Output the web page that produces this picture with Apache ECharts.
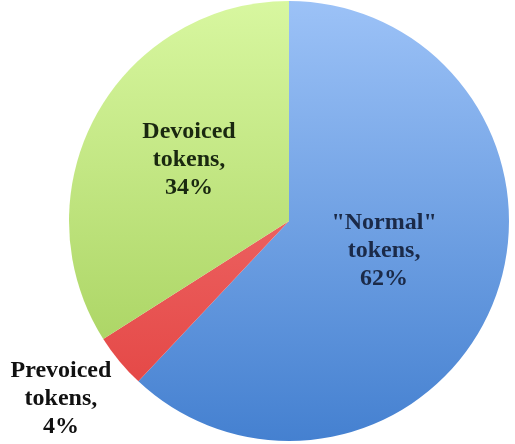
<!DOCTYPE html>
<html>
<head>
<meta charset="utf-8">
<script src="https://cdn.jsdelivr.net/npm/echarts@6/dist/echarts.min.js"></script>
<style>html,body{margin:0;padding:0;background:#fff;}#c{width:515px;height:444px;}</style>
</head>
<body>
<div id="c"></div>
<script>
const categories = ['"Normal"\ntokens,', 'Prevoiced\ntokens,', 'Devoiced\ntokens,'];
const values = [62, 4, 34];

const grad = (a, b) => ({type: 'linear', x: 0, y: 0, x2: 0, y2: 444, global: true,
  colorStops: [{offset: 0, color: a}, {offset: 1, color: b}]});
const styles = [
  {color: grad('#9cc2f7', '#4480d0'), text: '#1b2a48', offset: [-10, -12]},
  {color: grad('#f58080', '#e2403e'), text: '#111111', offset: [-141, 106]},
  {color: grad('#d8f7a0', '#a0cc55'), text: '#1a2810', offset: [-1, -7]}
];

const chart = echarts.init(document.getElementById('c'), null, {renderer: 'canvas'});
chart.setOption({
  animation: false,
  series: [{
    type: 'pie',
    center: [289, 221],
    radius: 220,
    startAngle: 90,
    clockwise: true,
    avoidLabelOverlap: false,
    labelLine: {show: false},
    itemStyle: {borderWidth: 0},
    data: categories.map((name, i) => ({
      name: name,
      value: values[i],
      itemStyle: {color: styles[i].color},
      label: {
        show: true,
        position: 'inside',
        offset: styles[i].offset,
        formatter: '{b}\n{c}%',
        color: styles[i].text,
        fontFamily: 'Liberation Serif',
        fontWeight: 'bold',
        fontSize: 24,
        lineHeight: 28,
        align: 'center'
      }
    }))
  }]
});
</script>
</body>
</html>
